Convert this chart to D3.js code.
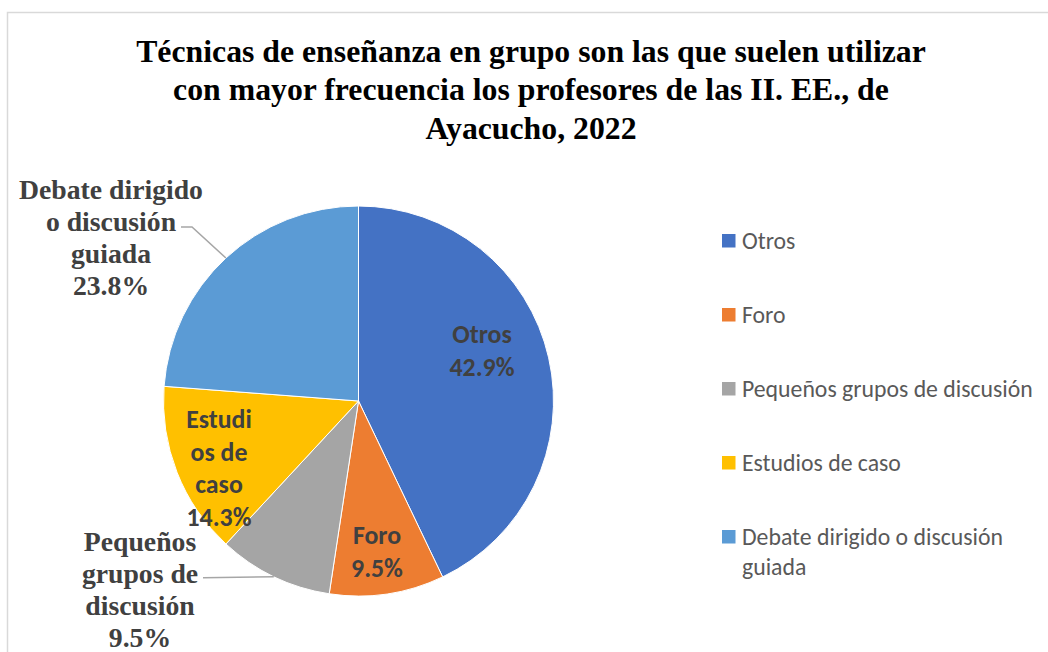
<!DOCTYPE html>
<html><head><meta charset="utf-8">
<script src="https://cdn.jsdelivr.net/npm/d3@7"></script>
<style>html,body{margin:0;padding:0;background:#fff;}svg{display:block;}</style>
</head><body>
<svg id="chart" width="1048" height="652"></svg>
<script>
const categories = ["Otros", "Foro", "Pequeños grupos de discusión", "Estudios de caso", "Debate dirigido o discusión guiada"];
const values = [42.9, 9.5, 9.5, 14.3, 23.8];
const colors = ["#4472C4", "#ED7D31", "#A5A5A5", "#FFC000", "#5B9BD5"];
const titleLines = ["Técnicas de enseñanza en grupo son las que suelen utilizar", "con mayor frecuencia los profesores de las II. EE., de", "Ayacucho, 2022"];
const labelLines = [["Otros"], ["Foro"], ["Pequeños", "grupos de", "discusión"], ["Estudi", "os de", "caso"], ["Debate dirigido", "o discusión", "guiada"]];
const legendLines = [["Otros"], ["Foro"], ["Pequeños grupos de discusión"], ["Estudios de caso"], ["Debate dirigido o discusión", "guiada"]];

const svg = d3.select("#chart");
const SERIF = "'Liberation Serif','Times New Roman',serif";
const SANS = "Carlito, Calibri, Lato, 'Open Sans', sans-serif";

function measure(text, family, weight, size) {
  const t = svg.append("text").attr("font-family", family).attr("font-weight", weight).attr("font-size", size).text(text);
  const w = t.node().getComputedTextLength();
  t.remove();
  return w;
}
function fitSize(text, family, weight, target) {
  return 100 * target / measure(text, family, weight, 100);
}

// frame
svg.append("rect").attr("x", 7.5).attr("y", 12.5).attr("width", 1100).attr("height", 700)
  .attr("fill", "none").attr("stroke", "#d9d9d9").attr("stroke-width", 1.5);

// title (tall, slightly condensed like the reference)
const titleSize = 31.5;
const titleSx = 790 / measure(titleLines[0], SERIF, "bold", titleSize);
svg.append("g").attr("transform", `translate(531,0) scale(${titleSx},1)`)
  .selectAll("text").data(titleLines).join("text")
  .attr("x", 0).attr("y", (d, i) => 62 + i * 38.5)
  .attr("text-anchor", "middle").attr("font-family", SERIF).attr("font-weight", "bold")
  .attr("font-size", titleSize).attr("fill", "#000").text(d => d);

// pie
const cx = 358.5, cy = 401, R = 195;
const data = categories.map((c, i) => ({ cat: c, value: values[i], color: colors[i], i }));
const pie = d3.pie().value(d => d.value).sort(null);
const arcs = pie(data);
const arc = d3.arc().innerRadius(0).outerRadius(R);
const g = svg.append("g").attr("transform", `translate(${cx},${cy})`);
g.selectAll("path").data(arcs).join("path")
  .attr("d", arc).attr("fill", d => d.data.color).attr("stroke", "#fff").attr("stroke-width", 1);

// leader lines (outer-arc midpoint to label)
function edgePoint(a) {
  const m = (a.startAngle + a.endAngle) / 2;
  return [R * Math.sin(m), -R * Math.cos(m)];
}
const pD = edgePoint(arcs[4]);
const pP = edgePoint(arcs[2]);
g.append("path").attr("fill", "none").attr("stroke", "#a6a6a6").attr("stroke-width", 1.5)
  .attr("d", d3.line()([[181 - cx, 227 - cy], [192 - cx, 227 - cy], pD]));
g.append("path").attr("fill", "none").attr("stroke", "#a6a6a6").attr("stroke-width", 1.5)
  .attr("d", d3.line()([[203 - cx, pP[1] + 1], pP]));

// inside labels (sans bold)
const inSize = fitSize("42.9%", SANS, "bold", 65);
const fmt = v => v.toFixed(1) + "%";
const inner = [
  { i: 0, x: 482, y: 334 },
  { i: 1, x: 377, y: 535 },
  { i: 3, x: 219, y: 419 }
];
inner.forEach(l => {
  const lines = labelLines[l.i].concat([fmt(values[l.i])]);
  svg.append("g").selectAll("text").data(lines).join("text")
    .attr("x", l.x).attr("y", (d, k) => l.y + k * 32.5).attr("dy", "0.35em")
    .attr("text-anchor", "middle").attr("font-family", SANS).attr("font-weight", "bold")
    .attr("font-size", inSize).attr("fill", "#404040").text(d => d);
});

// outside labels (serif bold)
const outSize = fitSize("Debate dirigido", SERIF, "bold", 184);
const outer = [
  { i: 4, x: 111, y: 189 },
  { i: 2, x: 140, y: 541 }
];
outer.forEach(l => {
  const lines = labelLines[l.i].concat([fmt(values[l.i])]);
  svg.append("g").selectAll("text").data(lines).join("text")
    .attr("x", l.x).attr("y", (d, k) => l.y + k * 32).attr("dy", "0.35em")
    .attr("text-anchor", "middle").attr("font-family", SERIF).attr("font-weight", "bold")
    .attr("font-size", outSize).attr("fill", "#404040").text(d => d);
});

// legend
const legSize = fitSize("Pequeños grupos de discusión", SANS, "normal", 291);
const leg = svg.append("g");
const rowY = d3.scaleBand().domain(categories).range([204, 574]);
categories.forEach((c, i) => {
  const yc = rowY(c) + rowY.bandwidth() / 2;
  leg.append("rect").attr("x", 722).attr("y", yc - 7).attr("width", 13.5).attr("height", 13.5).attr("fill", colors[i]);
  legendLines[i].forEach((t, k) => {
    leg.append("text").attr("x", 742).attr("y", yc + k * 29.5).attr("dy", "0.35em")
      .attr("font-family", SANS).attr("font-size", legSize).attr("fill", "#595959").text(t);
  });
});
</script>
</body></html>
